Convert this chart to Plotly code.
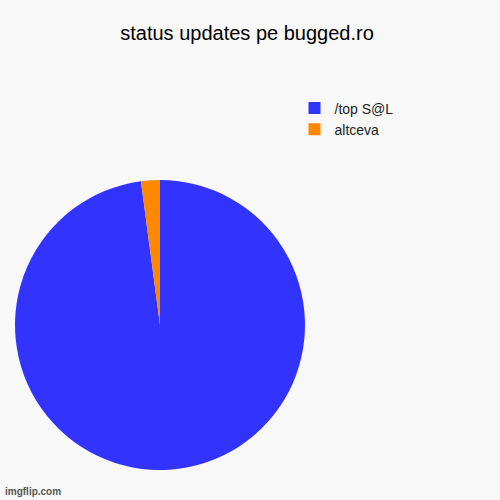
import plotly.graph_objects as go

labels = ["/top S@L", "altceva"]
values = [97.9, 2.1]
colors = ["#3333FF", "#FF8800"]

fig = go.Figure(go.Pie(
    labels=labels, values=values, sort=False, direction="clockwise", rotation=0,
    marker=dict(colors=colors, line=dict(width=0)),
    textinfo="none", hoverinfo="label+percent",
    domain=dict(x=[0.03, 0.61], y=[0.06, 0.64]),
))
fig.update_layout(
    width=500, height=500,
    margin=dict(l=0, r=0, t=0, b=0),
    paper_bgcolor="#F8F8F8", plot_bgcolor="#F8F8F8",
    title=dict(text="status updates pe bugged.ro", x=0.494, xanchor="center", y=0.935, yanchor="middle",
               font=dict(family="Liberation Sans, Arial", size=20, color="#000000")),
    font=dict(family="Liberation Sans, Arial", size=13, color="#222222"),
    legend=dict(x=0.589, xanchor="left", y=0.815, yanchor="top", bgcolor="rgba(0,0,0,0)",
                font=dict(size=14), tracegroupgap=0),
    annotations=[dict(text="<b>imgflip.com</b>", x=0.005, y=0.003, xref="paper", yref="paper",
                      xanchor="left", yanchor="bottom", showarrow=False,
                      font=dict(family="Liberation Sans, Arial", size=10, color="#555555"))],
)
fig.write_html("out.html", config={"displayModeBar": False},
               post_script="document.body.style.margin='0';")
